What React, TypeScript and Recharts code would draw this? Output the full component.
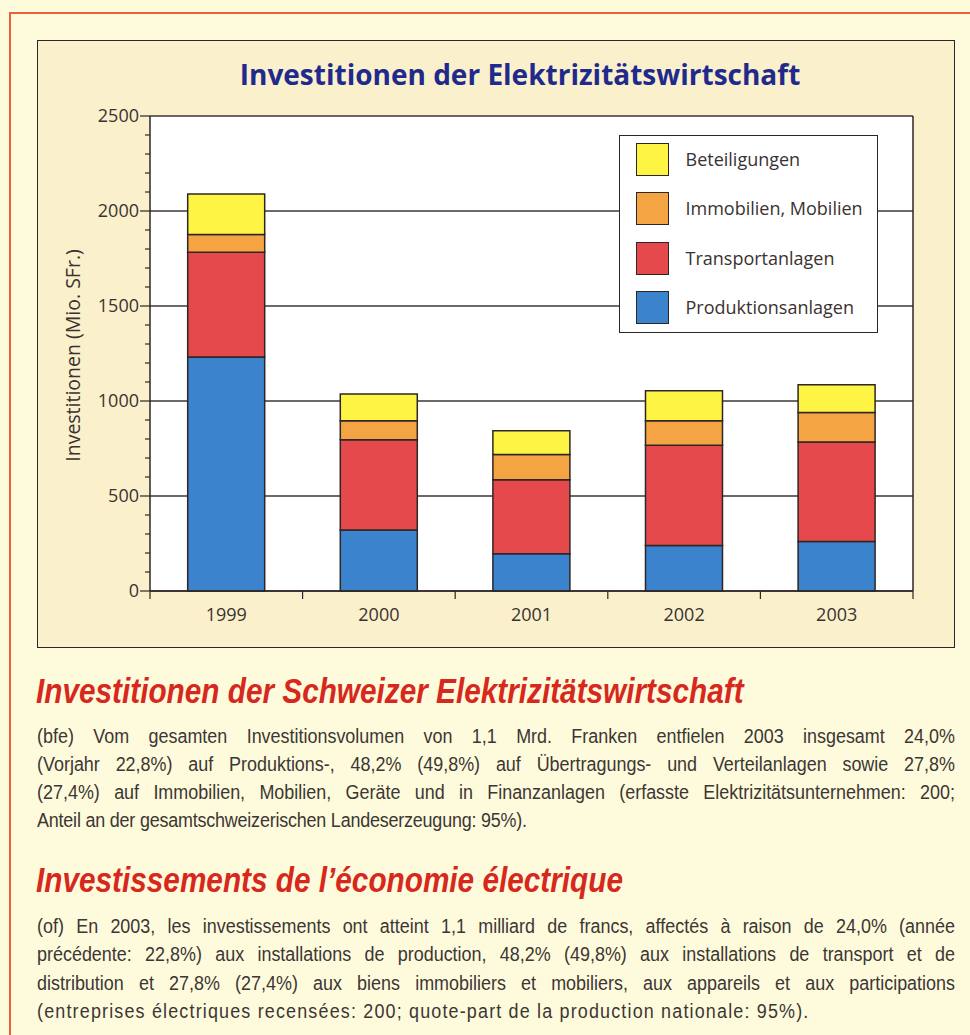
import React from 'react';
import { BarChart, Bar, XAxis, YAxis, CartesianGrid, Legend } from 'recharts';

// ---- data ----
const years = ['1999', '2000', '2001', '2002', '2003'];
const produktionsanlagen = [1231, 321, 196, 240, 261];
const transportanlagen = [552, 475, 390, 527, 523];
const immobilienMobilien = [93, 100, 133, 129, 155];
const beteiligungen = [213, 141, 125, 158, 147];

const yTicks = [0, 100, 200, 300, 400, 500, 600, 700, 800, 900, 1000, 1100, 1200, 1300, 1400, 1500, 1600, 1700, 1800, 1900, 2000, 2100, 2200, 2300, 2400, 2500];
const yLabelTicks = [0, 500, 1000, 1500, 2000, 2500];

const seriesNames = ['Produktionsanlagen', 'Transportanlagen', 'Immobilien, Mobilien', 'Beteiligungen'];

const data = years.map((year, i) => ({
  year,
  prod: produktionsanlagen[i],
  trans: transportanlagen[i],
  immo: immobilienMobilien[i],
  bet: beteiligungen[i],
}));

// ---- layout ----
const CHART_W = 918;
const CHART_H = 608;
const MARGIN = { top: 76, right: 41, bottom: 0, left: 0 };
const Y_AXIS_W = 113;
const X_AXIS_H = 57;
const PLOT_W = CHART_W - MARGIN.left - MARGIN.right - Y_AXIS_W - 1;
const BAND = PLOT_W / years.length;

const INK = '#3a3230';
const LINE = '#2e2626';
const GRID = '#3f3636';
const CHART_FONT = "'Open Sans', 'Noto Sans', sans-serif";
const TEXT_FONT = "'Liberation Sans', Arial, sans-serif";
const BODY_SCALE = 0.92;
const HEAD_SCALE = 0.85;

const YTick = (props: any) => {
  const { x, y, payload } = props;
  const v = payload.value;
  const major = yLabelTicks.includes(v);
  return (
    <g>
      <line x1={x - (major ? 10 : 5)} x2={x} y1={y} y2={y} stroke={LINE} strokeWidth={1.2} />
      {major && (
        <text x={x - 11} y={y} dy="0.36em" textAnchor="end" fill={INK} fontSize={18} fontFamily={CHART_FONT}>
          {v}
        </text>
      )}
    </g>
  );
};

const XTick = (props: any) => {
  const { x, y, payload, index } = props;
  const half = BAND / 2;
  return (
    <g>
      {index === 0 && <line x1={x - half} x2={x - half} y1={y} y2={y + 8} stroke={LINE} strokeWidth={1.2} />}
      <line x1={x + half} x2={x + half} y1={y} y2={y + 8} stroke={LINE} strokeWidth={1.2} />
      <text x={x} y={y + 29.5} textAnchor="middle" fill={INK} fontSize={18} fontFamily={CHART_FONT}>
        {payload.value}
      </text>
    </g>
  );
};

const renderLegend = (props: any) => {
  const items = [...(props.payload || [])].sort(
    (a: any, b: any) => seriesNames.indexOf(b.value) - seriesNames.indexOf(a.value)
  );
  return (
    <div
      style={{
        width: 259,
        height: 198,
        boxSizing: 'border-box',
        border: `1.5px solid ${LINE}`,
        background: '#ffffff',
        position: 'relative',
        fontFamily: CHART_FONT,
      }}
    >
      {items.map((it: any, i: number) => (
        <div
          key={it.value}
          style={{ position: 'absolute', left: 15.5, top: 6.5 + i * 49.6, display: 'flex', alignItems: 'center', height: 33 }}
        >
          <div
            style={{
              width: 33,
              height: 33,
              boxSizing: 'border-box',
              background: it.color,
              border: `1.5px solid ${LINE}`,
            }}
          />
          <span style={{ marginLeft: 17, fontSize: 18, color: INK, whiteSpace: 'nowrap', lineHeight: '33px' }}>{it.value}</span>
        </div>
      ))}
    </div>
  );
};

const YLabel = (props: any) => {
  const vb = props.viewBox || { x: 0, y: MARGIN.top, width: Y_AXIS_W, height: 475 };
  const cx = vb.x + 35;
  const cy = vb.y + vb.height / 2 + 2;
  return (
    <text
      x={cx}
      y={cy}
      transform={`rotate(-90, ${cx}, ${cy})`}
      textAnchor="middle"
      dominantBaseline="central"
      fill={INK}
      fontSize={19.5}
      fontFamily={CHART_FONT}
    >
      Investitionen (Mio. SFr.)
    </text>
  );
};

const deLines = [
  '(bfe) Vom gesamten Investitionsvolumen von 1,1 Mrd. Franken entfielen 2003 insgesamt 24,0%',
  '(Vorjahr 22,8%) auf Produktions-, 48,2% (49,8%) auf Übertragungs- und Verteilanlagen sowie 27,8%',
  '(27,4%) auf Immobilien, Mobilien, Geräte und in Finanzanlagen (erfasste Elektrizitätsunternehmen: 200;',
  'Anteil an der gesamtschweizerischen Landeserzeugung: 95%).',
];
const frLines = [
  '(of) En 2003, les investissements ont atteint 1,1 milliard de francs, affectés à raison de 24,0% (année',
  'précédente: 22,8%) aux installations de production, 48,2% (49,8%) aux installations de transport et de',
  'distribution et 27,8% (27,4%) aux biens immobiliers et mobiliers, aux appareils et aux participations',
  '(entreprises électriques recensées: 200; quote-part de la production nationale: 95%).',
];

const Paragraph = ({ lines, top, lh, lastSpacing }: { lines: string[]; top: number; lh: number; lastSpacing: number }) => (
  <div
    style={{
      position: 'absolute',
      left: 37,
      top,
      width: 918 / BODY_SCALE,
      transform: `scaleX(${BODY_SCALE})`,
      transformOrigin: 'left top',
      fontFamily: TEXT_FONT,
      fontSize: 19.5,
      color: '#3c3634',
      lineHeight: `${lh}px`,
    }}
  >
    {lines.map((l, i) => {
      const last = i === lines.length - 1;
      return (
        <div
          key={i}
          style={{
            textAlign: last ? 'left' : 'justify',
            textAlignLast: last ? 'left' : 'justify',
            whiteSpace: 'nowrap',
            letterSpacing: last ? lastSpacing : 0,
          }}
        >
          {l}
        </div>
      );
    })}
  </div>
);

const Heading = ({ text, top }: { text: string; top: number }) => (
  <div
    style={{
      position: 'absolute',
      left: 36,
      top,
      transform: `scaleX(${HEAD_SCALE})`,
      transformOrigin: 'left top',
      fontFamily: TEXT_FONT,
      fontStyle: 'italic',
      fontWeight: 700,
      fontSize: 35,
      lineHeight: '35px',
      color: '#D7281E',
      whiteSpace: 'nowrap',
    }}
  >
    {text}
  </div>
);

export default function App() {
  return (
    <div style={{ position: 'absolute', left: 0, top: 0, width: 970, height: 1035, background: '#FEFBDC', overflow: 'hidden' }}>
      <div
        style={{
          position: 'absolute',
          left: 9,
          top: 12,
          width: 1000,
          height: 1100,
          borderTop: '2px solid #E8623A',
          borderLeft: '2px solid #E8623A',
        }}
      />
      <div
        style={{
          position: 'absolute',
          left: 37,
          top: 40,
          width: CHART_W,
          height: CHART_H,
          boxSizing: 'border-box',
          border: `1.5px solid ${LINE}`,
          background: '#FAF0CC',
        }}
      />
      <div
        style={{
          position: 'absolute',
          left: 37,
          top: 60,
          width: 966,
          textAlign: 'center',
          fontFamily: CHART_FONT,
          fontWeight: 700,
          fontSize: 28,
          lineHeight: '28px',
          color: '#1F2A8C',
          whiteSpace: 'nowrap',
        }}
      >
        Investitionen der Elektrizitätswirtschaft
      </div>
      <div style={{ position: 'absolute', left: 37, top: 40 }}>
        <BarChart width={CHART_W} height={CHART_H} data={data} margin={MARGIN} barCategoryGap="24.7%">
          <CartesianGrid
            yAxisId="left"
            horizontal={true}
            vertical={false}
            horizontalValues={yLabelTicks}
            stroke={GRID}
            strokeWidth={1.3}
            fill="#ffffff"
            fillOpacity={1}
          />
          <XAxis
            dataKey="year"
            height={X_AXIS_H}
            tickSize={0}
            tickMargin={0}
            tickLine={false}
            axisLine={{ stroke: LINE, strokeWidth: 1.5 }}
            tick={<XTick />}
            interval={0}
          />
          <YAxis
            yAxisId="left"
            width={Y_AXIS_W}
            domain={[0, 2500]}
            ticks={yTicks}
            interval={0}
            tickSize={0}
            tickMargin={0}
            tickLine={false}
            axisLine={{ stroke: LINE, strokeWidth: 1.5 }}
            tick={<YTick />}
            label={{ content: <YLabel /> }}
          />
          <YAxis
            yAxisId="right"
            orientation="right"
            width={1}
            domain={[0, 2500]}
            tick={false}
            tickLine={false}
            axisLine={{ stroke: LINE, strokeWidth: 1.5 }}
          />
          <Legend
            layout="horizontal"
            verticalAlign="middle"
            align="center"
            content={renderLegend}
            wrapperStyle={{ position: 'absolute', left: 582, top: 95, width: 259, height: 198 }}
          />
          <Bar yAxisId="left" dataKey="prod" name={seriesNames[0]} stackId="a" fill="#3B84CD" stroke={LINE} strokeWidth={1.5} isAnimationActive={false} />
          <Bar yAxisId="left" dataKey="trans" name={seriesNames[1]} stackId="a" fill="#E5494B" stroke={LINE} strokeWidth={1.5} isAnimationActive={false} />
          <Bar yAxisId="left" dataKey="immo" name={seriesNames[2]} stackId="a" fill="#F4A443" stroke={LINE} strokeWidth={1.5} isAnimationActive={false} />
          <Bar yAxisId="left" dataKey="bet" name={seriesNames[3]} stackId="a" fill="#FEF443" stroke={LINE} strokeWidth={1.5} isAnimationActive={false} />
        </BarChart>
      </div>
      <Heading text="Investitionen der Schweizer Elektrizitätswirtschaft" top={673} />
      <Paragraph lines={deLines} top={721.5} lh={28} lastSpacing={-0.22} />
      <Heading text="Investissements de l’économie électrique" top={862} />
      <Paragraph lines={frLines} top={911.5} lh={28.5} lastSpacing={1.27} />
    </div>
  );
}
